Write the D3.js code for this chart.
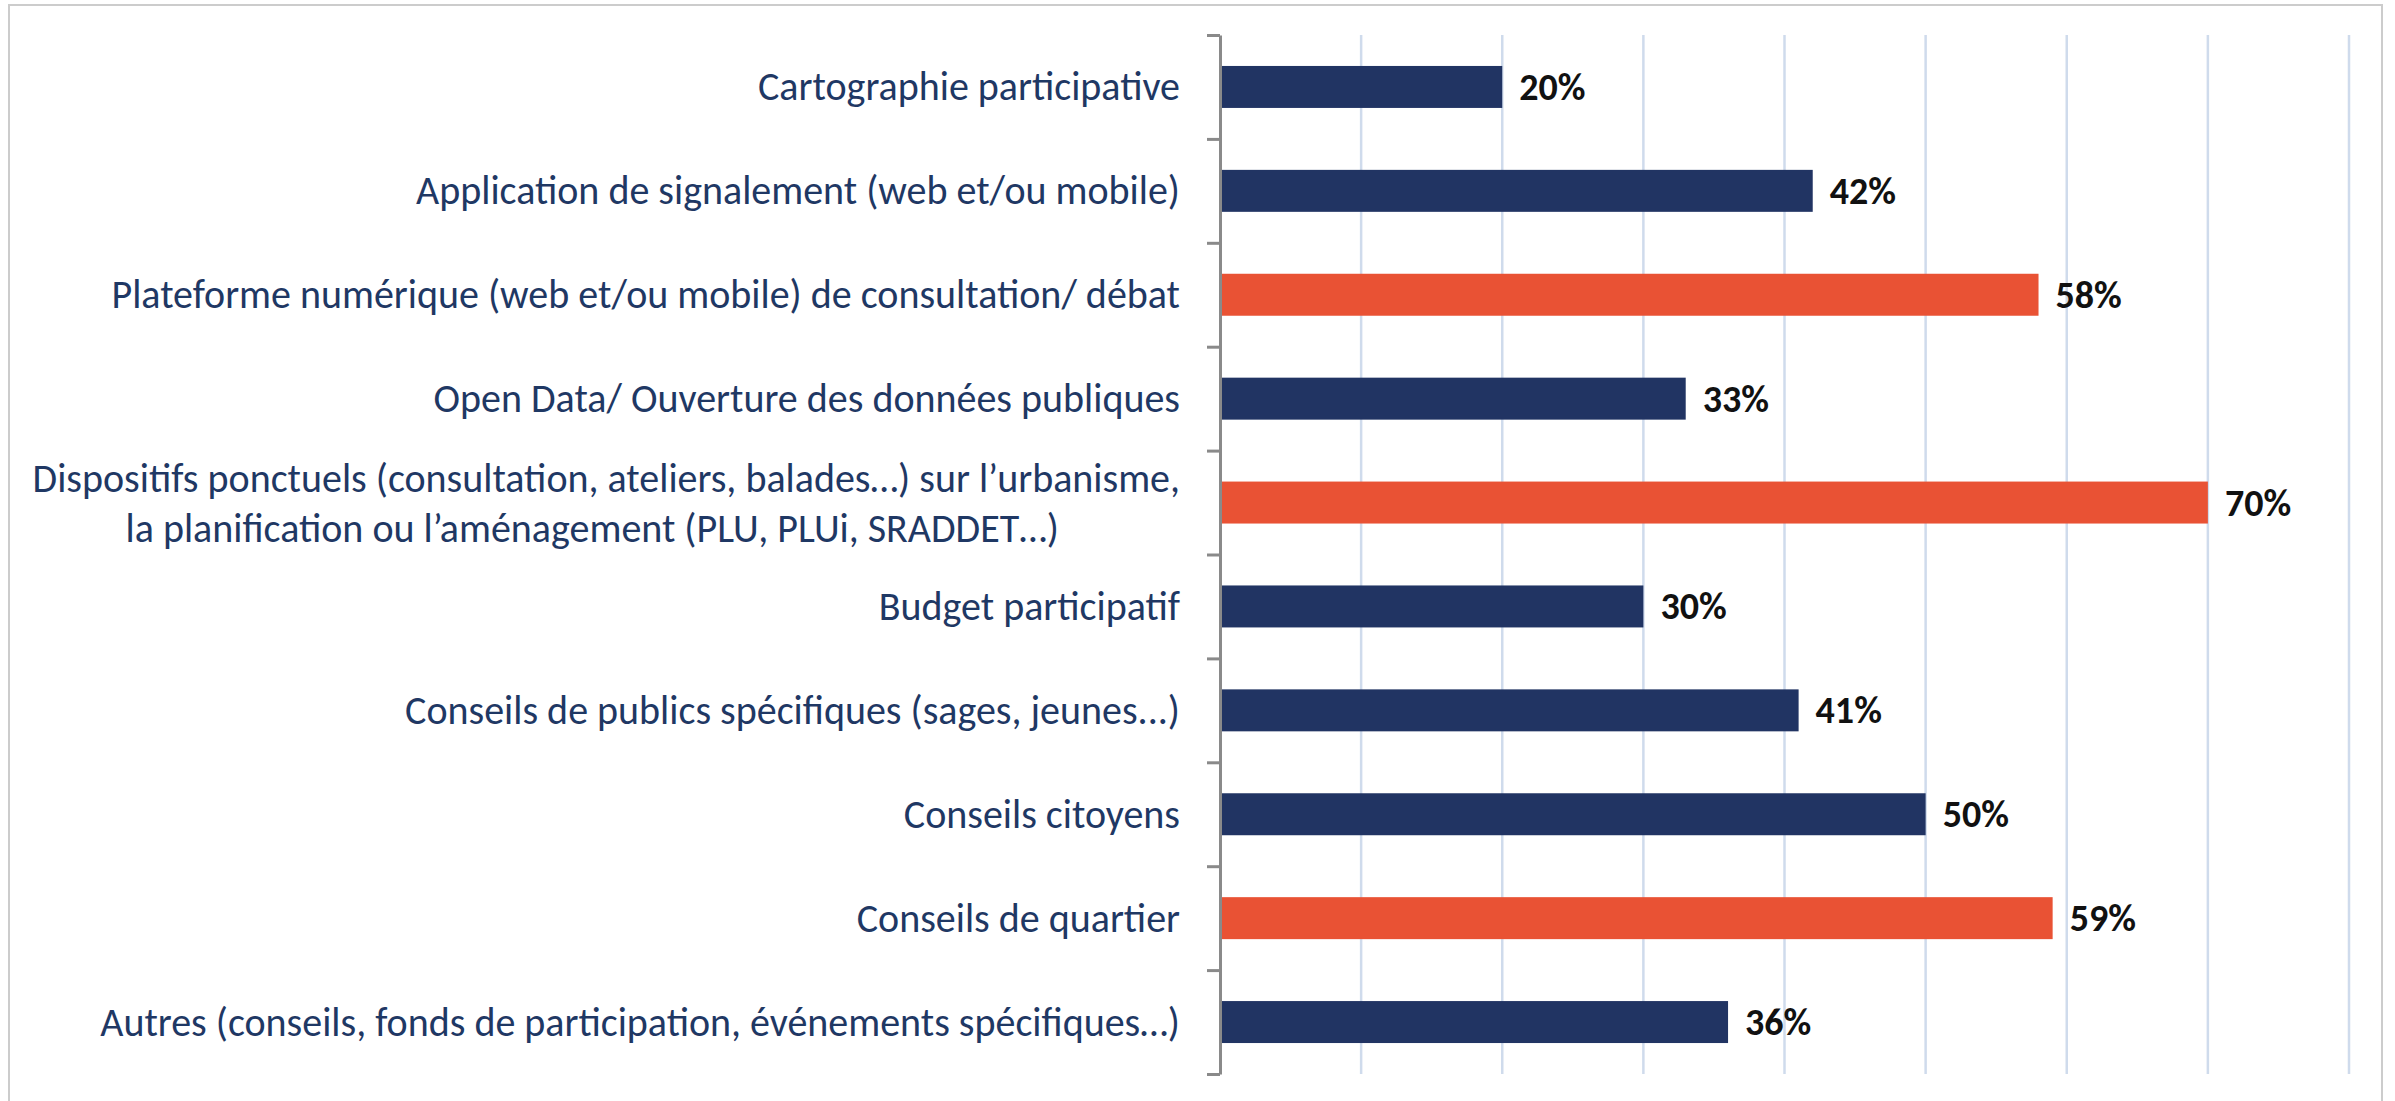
<!DOCTYPE html>
<html>
<head>
<meta charset="utf-8">
<script src="https://cdn.jsdelivr.net/npm/d3@7"></script>
<style>
  body { margin: 0; background: #fff; }
  text { font-family: Carlito, Calibri, Lato, sans-serif; }
</style>
</head>
<body>
<script>
// chart data
var categories = [
  "Cartographie participative",
  "Application de signalement (web et/ou mobile)",
  "Plateforme numérique (web et/ou mobile) de consultation/ débat",
  "Open Data/ Ouverture des données publiques",
  "Dispositifs ponctuels (consultation, ateliers, balades…) sur l’urbanisme,\nla planification ou l’aménagement (PLU, PLUi, SRADDET…)",
  "Budget participatif",
  "Conseils de publics spécifiques (sages, jeunes...)",
  "Conseils citoyens",
  "Conseils de quartier",
  "Autres (conseils, fonds de participation, événements spécifiques…)"
];
var values = [20, 42, 58, 33, 70, 30, 41, 50, 59, 36];
var highlighted = ["Plateforme numérique (web et/ou mobile) de consultation/ débat",
  categories[4], "Conseils de quartier"];
var gridTicks = [10, 20, 30, 40, 50, 60, 70, 80];

var width = 2395,
    height = 1101;

var navy = "#213463",
    orange = "#E95234";

var svg = d3.select("body").append("svg")
    .attr("width", width)
    .attr("height", height);

// outer frame
svg.append("rect")
    .attr("x", 9).attr("y", 5)
    .attr("width", 2373).attr("height", 1120)
    .attr("fill", "none")
    .attr("stroke", "#cccccc")
    .attr("stroke-width", 2);

var x = d3.scaleLinear().domain([0, 80]).range([1220, 2349]);

var y = d3.scaleBand()
    .domain(categories)
    .range([35, 1074])
    .paddingInner(0.596)
    .paddingOuter(0.298);

// tick positions are at band edges, so use a plain linear scale for the axis
var yEdge = d3.scaleLinear().domain([0, categories.length]).range([35, 1074]);

// grid lines
svg.append("g")
  .selectAll("line")
  .data(gridTicks)
  .enter().append("line")
    .attr("x1", d => x(d)).attr("x2", d => x(d))
    .attr("y1", 35).attr("y2", 1074)
    .attr("stroke", "#cfdbec")
    .attr("stroke-width", 2.5);

// bars
svg.append("g")
  .selectAll("rect")
  .data(categories)
  .enter().append("rect")
    .attr("x", x(0))
    .attr("y", d => y(d))
    .attr("width", (d, i) => x(values[i]) - x(0))
    .attr("height", y.bandwidth())
    .attr("fill", d => highlighted.indexOf(d) >= 0 ? orange : navy);

// axis on the left
var axis = svg.append("g")
    .attr("transform", "translate(" + x(0) + ",0)")
    .call(d3.axisLeft(yEdge).ticks(categories.length).tickFormat("").tickSize(13).tickSizeOuter(0));
axis.select(".domain").attr("stroke", "#8a8a8a").attr("stroke-width", 3);
axis.selectAll(".tick line").attr("stroke", "#8a8a8a").attr("stroke-width", 3);

// category labels
var labels = svg.append("g")
  .selectAll("text")
  .data(categories)
  .enter().append("text")
    .attr("fill", "#1f3864")
    .attr("font-size", 40)
    .attr("text-anchor", "end")
    .attr("dominant-baseline", "central");

labels.each(function (d) {
  var lines = d.split("\n");
  var t = d3.select(this);
  var cy = y(d) + y.bandwidth() / 2;
  if (lines.length == 1) {
    t.attr("x", 1180).attr("y", cy).text(d);
  } else {
    // wrapped label: lines centred on each other, like the spreadsheet does
    t.attr("text-anchor", "middle");
    var spans = t.selectAll("tspan").data(lines).enter().append("tspan")
        .attr("y", (l, k) => cy + (k - (lines.length - 1) / 2) * 50)
        .text(l => l);
    var w = spans.nodes()[0].getComputedTextLength();
    // first line carries a trailing space in the original, so the second sits a bit left
    spans.attr("x", (l, k) => 1180 - w / 2 - (k > 0 ? 14 : 0));
  }
});

// value labels
svg.append("g")
  .selectAll("text")
  .data(categories)
  .enter().append("text")
    .attr("x", (d, i) => x(values[i]) + 17)
    .attr("y", d => y(d) + y.bandwidth() / 2)
    .attr("dominant-baseline", "central")
    .attr("font-size", 38)
    .attr("font-weight", "bold")
    .attr("fill", "#111")
    .text((d, i) => values[i] + "%");
</script>
</body>
</html>
